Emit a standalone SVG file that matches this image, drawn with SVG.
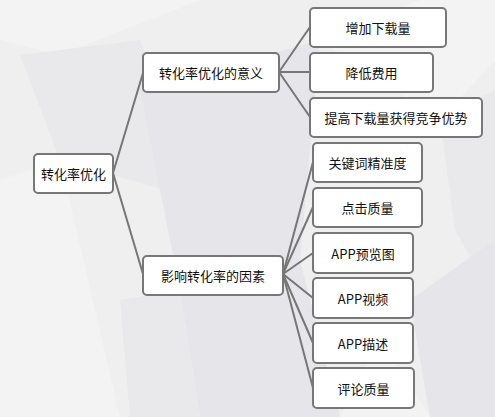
<svg xmlns="http://www.w3.org/2000/svg" width="495" height="417" viewBox="0 0 495 417">
<style>
.bg{fill:#efeff0}
.p1{fill:#e6e6ea}
.p2{fill:#e9e9ec}
.p3{fill:#f3f3f3}
.node rect{fill:#ffffff;stroke:#777777;stroke-width:2}
.node text{font-family:"Noto Sans CJK SC","Liberation Sans",sans-serif;font-size:13px;fill:#111111;text-anchor:middle;dominant-baseline:central}
#connectors path{fill:none;stroke:#767676;stroke-width:2}
</style>
<rect class="bg" x="0" y="0" width="495" height="417"/>
<g id="background">
<polygon class="p3" points="0,0 200,0 60,55 0,40"/>
<polygon class="p2" points="20,55 140,40 200,200 60,160"/>
<polygon class="p3" points="0,180 60,160 120,417 0,417"/>
<polygon class="p1" points="140,90 320,40 300,260 180,290"/>
<polygon class="p1" points="180,290 300,260 340,417 200,417"/>
<polygon class="p2" points="120,300 180,290 200,417 130,417"/>
<polygon class="p3" points="320,40 420,0 495,0 495,60 440,120"/>
<polygon class="p2" points="440,120 495,90 495,300 455,230"/>
<polygon class="p1" points="410,300 495,240 495,417 430,417"/>
<polygon class="p3" points="340,417 380,340 430,417"/>
</g>
<g id="connectors">
<path d="M113,173 L143,73"/>
<path d="M113,173 L143,274"/>
<path d="M279,72 L310,27"/>
<path d="M279,72 L310,72"/>
<path d="M279,72 L310,117"/>
<path d="M283,274 L313,162"/>
<path d="M283,274 L313,207"/>
<path d="M283,274 L313,253"/>
<path d="M283,274 L313,298"/>
<path d="M283,274 L313,343"/>
<path d="M283,274 L313,388"/>
</g>
<g id="n-root" class="node"><rect x="34" y="154" width="79" height="39" rx="4"/><text x="73.5" y="173.5">转化率优化</text></g>
<g id="n-yiyi" class="node"><rect x="143" y="53" width="136" height="39" rx="4"/><text x="211" y="72.5">转化率优化的意义</text></g>
<g id="n-yinsu" class="node"><rect x="143" y="256" width="140" height="39" rx="4"/><text x="213" y="275.5">影响转化率的因素</text></g>
<g id="n-a1" class="node"><rect x="310" y="8" width="136" height="39" rx="4"/><text x="378" y="27.5">增加下载量</text></g>
<g id="n-a2" class="node"><rect x="310" y="53" width="123" height="39" rx="4"/><text x="371.5" y="72.5">降低费用</text></g>
<g id="n-a3" class="node"><rect x="310" y="98" width="172" height="39" rx="4"/><text x="396" y="117.5">提高下载量获得竞争优势</text></g>
<g id="n-b1" class="node"><rect x="313" y="143" width="109" height="39" rx="4"/><text x="367.5" y="162.5">关键词精准度</text></g>
<g id="n-b2" class="node"><rect x="313" y="188" width="109" height="39" rx="4"/><text x="367.5" y="207.5">点击质量</text></g>
<g id="n-b3" class="node"><rect x="313" y="233" width="100" height="40" rx="4"/><text x="363" y="253">APP预览图</text></g>
<g id="n-b4" class="node"><rect x="313" y="278" width="100" height="40" rx="4"/><text x="363" y="298">APP视频</text></g>
<g id="n-b5" class="node"><rect x="313" y="323" width="100" height="40" rx="4"/><text x="363" y="343">APP描述</text></g>
<g id="n-b6" class="node"><rect x="313" y="368" width="101" height="40" rx="4"/><text x="363.5" y="388">评论质量</text></g>
</svg>
